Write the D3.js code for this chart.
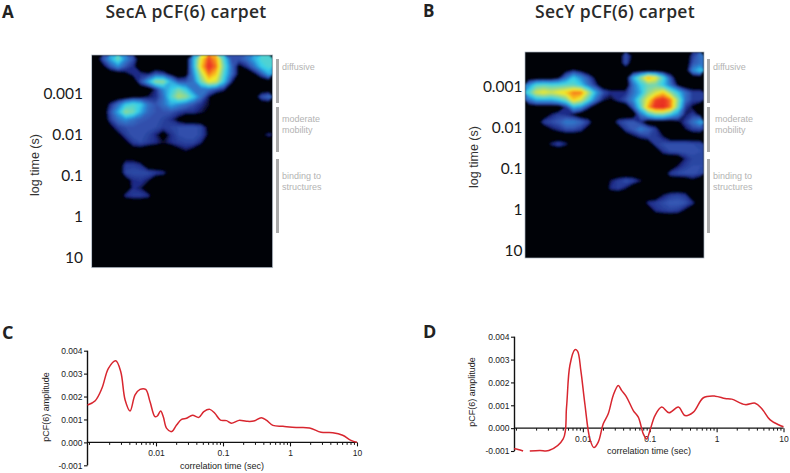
<!DOCTYPE html>
<html><head><meta charset="utf-8">
<script src="https://cdn.jsdelivr.net/npm/d3@7/dist/d3.min.js"></script>
<style>html,body{margin:0;padding:0;background:#fff}svg{display:block}</style>
</head><body><svg id="c" width="790" height="473"></svg>
<script>
// Carpet intensities, rows from short to long lag; omitted trailing cells are zero
const carpetA = [
[0,1.5,3,4.5,2.5,1.5,0,0,0,0,0,0,0,3,6.5,8.5,7.5,4,1.5,1.5,2,3,4,4],
[0,.5,1.5,2.5,1.5,1,0,0,0,0,0,0,0,3,7,9,8,4.5,2,.5,1,2,3.5,4],
[0,0,0,0,.5,1,1,.8,1.5,1.2,.5,0,.3,2.5,5.5,8,7,4,2,.5,0,.5,1.5,3],
[0,0,0,0,0,0,1.5,3,5,5,3,1.5,1.5,2,4.5,6.5,6,3.5,1],
[0,0,0,0,0,0,0,0,1,2.5,3.5,4.5,3.5,2,2,2,1.5,1],
[0,0,0,0,0,.5,.5,.8,1,2,4,5.5,5,3.5,2,.8,0,0,0,0,0,0,1.5,2],
[0,0,1,2,3.5,4,3.5,2,1.5,2,3,2.5,2,1.5,1,.7],
[0,0,1.5,3,5,4.5,3,1.8,1.5,1.5,1.5,1.2,1,1,.8,.5],
[0,0,1.2,2,2.5,2,1.6,1.5,1.5,1.3,1,.5],
[0,0,.5,1.2,1.4,1.5,1.4,1.5,1.4,1.2,1.3,1.4,1.5,1.5,1.3,.5],
[0,0,0,.5,1.2,1.5,1.5,1.3,.9,.3,1,1.4,1.5,1.5,1.3,.6,0,0,0,0,0,0,.5,1],
[0,0,0,0,.5,1.2,1.4,1.2,1,.7,1,1.2,1.3,1.3,.9],
[0,0,0,0,0,.3,.3,0,0,0,0,.5,.8,.5],
[0,0,0,0,.4,.4],
[0,0,0,0,1.2,1.2,1],
[0,0,0,0,1.3,1.4,1.4,1.4,1.2,1,.3],
[0,0,0,0,.3,1,1.1,.8],
[0,0,0,0,0,1,.8],
[0,0,0,0,1,1.2,1.2,1],
[],[],[],[],[],[],[],[],[]
];
const carpetB = [
[0,0,0,0,0,0,0,0,0,0,0,0,0,1.5,.5,0,0,0,0,0,0,0,1.2,2],
[0,0,0,0,0,0,0,0,0,0,0,0,0,1.5,0,0,0,0,0,0,0,0,1.5,2],
[0,0,0,0,0,.5,.8,.5,0,0,0,0,0,0,0,0,0,0,0,0,0,0,2.5,3.5],
[0,0,0,0,.6,2,3.5,2.5,1.5,.5,0,0,0,0,3,5,7.5,6.5,4,1.5],
[2.5,4,4.2,4,4,4.2,4.2,3.5,2,1,0,0,0,0,2,3.5,4.5,4.5,3.5,2,.6],
[4,6,6.5,6,6.5,7,8,8,5.5,3,1.5,1,1,1,2,3,5,6,7,5,3.5,2,1.2,1.2],
[2,3,3,3,3.5,4.5,7,6,4,2,.8,.6,1,1.5,2.5,4.5,6.5,8.5,9,8,5,2,1.2,1.2],
[0,0,0,0,0,1,3,2.5,1,0,0,0,0,0,1.5,4,7.5,9,9.2,8,4.5,1.2,.6],
[0,0,0,.8,1.2,1,.6,0,0,0,0,0,0,0,0,2,3.5,4.5,4.5,3.5,2.5,.8,1.2,.5],
[0,0,1.2,1.4,1.6,2.2,2.2,1.8,1.2,0,0,0,1.2,1.5,1.6,1,0,0,0,0,.5,1.2,2,3],
[0,0,0,.7,1,1.4,1.4,1.1,.3,0,0,0,0,1.2,1.6,2.3,1.8,1.2,0,0,0,.7,1.2,1.3],
[0,0,0,0,0,0,0,0,0,0,0,0,0,0,.6,1,1.3,1.2,.8],
[0,0,0,.9,1.3,.9,0,0,0,0,0,0,0,0,0,0,0,1.2,1.4,1.5,1.5,1.5,1.4,1.3],
[0,0,0,0,0,0,0,0,0,0,0,0,0,0,0,0,0,0,1.1,1.4,1.5,1.5,1.5,1.4],
[0,0,0,0,0,0,0,0,0,0,0,0,0,0,0,0,0,0,0,0,0,.9,1.3,1.3],
[0,0,0,0,0,0,0,0,0,0,0,0,0,0,0,0,0,0,0,0,.8,1.2,1.4,1.4],
[0,0,0,0,0,0,0,0,0,0,0,0,0,0,0,0,0,0,0,1.2,1.4,1.5,1.5,1.3],
[0,0,0,0,0,0,0,0,0,0,0,.8,1.2,1.5,1.3,.8,0,0,0,0,0,0,.5],
[0,0,0,0,0,0,0,0,0,0,0,1,1.2,.8],
[0,0,0,0,0,0,0,0,0,0,0,0,0,0,0,0,0,0,.8,1.2,1.3,1.1],
[0,0,0,0,0,0,0,0,0,0,0,0,0,0,0,0,1,1.2,1.4,1.6,1.6,1.5,1],
[0,0,0,0,0,0,0,0,0,0,0,0,0,0,0,0,0,1,1.2,1.3,1.2,.6],
[],[],[],[],[],[]
];
const carpetTicks = ["0.001","0.01","0.1","1","10"];
const regionBars = [["diffusive"],["moderate","mobility"],["binding to","structures"]];

const timeC = [.00095,.00124,.00156,.00195,.00251,.00298,.00346,.0041,.00487,.00578,.00701,.00815,.00966,.01047,.01173,.01285,.01442,.0171,.02028,.02409,.02858,.03508,.04365,.05176,.06353,.07551,.09162,.11246,.13335,.17338,.22336,.28708,.37325,.44259,.5559,.78343,1.236,1.954,2.912,4.345,6.115,8.128,10];
const ampC = [1.63,1.82,2.36,3.23,3.56,3.08,1.85,1.37,2.07,2.31,2.31,1.77,1.12,1.15,1.37,1.12,.61,.47,.76,1,1.05,1.18,1.09,1.34,1.44,1.27,.97,.95,.84,.96,.92,.93,1.08,.97,.74,.7,.65,.63,.44,.42,.31,.09,0];
const timeD = [.000937,.001075,.001277,.00145,.001608,.00227,.0031,.00508,.0057,.00639,.00759,.00832,.00933,.01071,.01273,.01462,.01698,.02018,.02396,.02842,.03381,.03792,.04505,.05675,.06745,.08015,.08994,.1008,.1198,.1508,.1941,.2679,.3371,.4493,.6342,.9484,1.339,1.685,2.669,3.769,4.742,6.322,8.425,10];
const ampD = [-.9,-.93,-1,null,-1,-.98,-.98,-.47,.92,2.74,3.43,3.37,2.52,1.06,-.47,-.85,-.61,.19,.63,1.43,1.87,1.65,1.36,.77,.48,-.25,-.47,-.1,.55,.92,.67,.92,.55,.7,1.33,1.4,1.3,1.27,1.03,1.09,.85,.36,.15,.06];
const ampTicks = [-1,0,1,2,3,4];
const decadeTicks = [.01,.1,1,10];

const svg = d3.select("#c");
const defs = svg.append("defs");
defs.append("filter").attr("id","soft").attr("x","-5%").attr("y","-5%").attr("width","110%").attr("height","110%")
  .append("feGaussianBlur").attr("stdDeviation",1);

const colour = d3.scaleLinear()
  .domain([0,.55,.9,1.5,2.5,3.5,4.5,5.5,6.5,7.5,8.5,9.2])
  .range(["#000207","#000207","#1e2a86","#3458b4","#2c8ed8","#36d0ea","#74d6b2","#b5dc6a","#f4ec2a","#f9a31c","#ee4024","#e62a20"])
  .clamp(true);

const LABEL = "'Liberation Sans',Arial,sans-serif";
const HEAD = "'Open Sans',Lato,sans-serif";

function text(x,y,s,size,opts={}) {
  return svg.append("text").attr("x",x).attr("y",y).text(s)
    .attr("font-family",opts.family||LABEL).attr("font-size",size)
    .attr("font-weight",opts.weight||400).attr("fill",opts.fill||"#111")
    .attr("text-anchor",opts.anchor||"start")
    .attr("letter-spacing",opts.spacing||null)
    .attr("transform",opts.rot?`rotate(${opts.rot} ${x} ${y})`:null);
}

function carpet(id,rows,box,labelRight,tickY,yLabel,barX,textX) {
  const nx=24, ny=rows.length;
  const flat=[];
  rows.forEach(r=>{for(let i=0;i<nx;i++)flat.push(i<r.length?r[i]:0);});
  const x=d3.scaleLinear([0,nx],[box.x0,box.x1]), y=d3.scaleLinear([0,ny],[box.y0,box.y1]);
  const path=d3.geoPath(d3.geoTransform({point(a,b){this.stream.point(x(a),y(b));}}));
  defs.append("clipPath").attr("id",id).append("rect")
    .attr("x",box.x0).attr("y",box.y0).attr("width",box.x1-box.x0).attr("height",box.y1-box.y0);
  const g=svg.append("g").attr("clip-path",`url(#${id})`);
  g.append("rect").attr("x",box.x0).attr("y",box.y0).attr("width",box.x1-box.x0).attr("height",box.y1-box.y0).attr("fill","#000207");
  const conts=d3.contours().size([nx,ny]).thresholds(d3.range(.55,9.3,.12))(flat);
  g.append("g").attr("filter","url(#soft)").selectAll("path").data(conts).join("path")
    .attr("d",path).attr("fill",d=>colour(d.value));
  svg.append("rect").attr("x",box.x0).attr("y",box.y0).attr("width",box.x1-box.x0).attr("height",box.y1-box.y0)
    .attr("fill","none").attr("stroke","#a9b4c0").attr("stroke-width",.7);
  carpetTicks.forEach((t,i)=>text(labelRight,tickY[i],t,15.5,{family:"Lato,sans-serif",anchor:"end",fill:"#1a1a1a"}));
  text(yLabel[0],yLabel[1],"log time (s)",12.5,{anchor:"middle",rot:-90,fill:"#333"});
  const bars=[[59,103],[107,152],[159,233]];
  const ys=[[70],[122,133],[179,190]];
  bars.forEach((b,i)=>{
    svg.append("rect").attr("x",barX).attr("y",b[0]).attr("width",3).attr("height",b[1]-b[0]).attr("fill","#aaaaaa");
    regionBars[i].forEach((s,j)=>text(textX[i],ys[i][j],s,9,{fill:"#b3b3b3"}));
  });
}

function profile(time,amp,o) {
  const x=d3.scaleLog([.00095,10],[o.x0,o.x1]);
  const y=d3.scaleLinear([-1,4],[o.yBottom,o.yTop]);
  const minor=[];
  [.001,.01,.1,1].forEach(d=>{for(let k=1;k<10;k++){const v=d*k;if(v>=.00095&&!decadeTicks.includes(+v.toPrecision(1)))minor.push(v);}});
  const ax=svg.append("g").attr("transform",`translate(0,${y(0)})`)
    .call(d3.axisBottom(x).tickValues(minor).tickSize(o.minor).tickFormat(""));
  ax.selectAll("path").remove();
  ax.selectAll("line").attr("stroke","#111").attr("stroke-width",1);
  const ax2=svg.append("g").attr("transform",`translate(0,${y(0)})`)
    .call(d3.axisBottom(x).tickValues(decadeTicks).tickSize(4).tickPadding(o.pad).tickFormat(d=>String(d)));
  ax2.select("path").attr("d",`M${o.x0},0H${o.x1}`).attr("stroke","#111").attr("stroke-width",1.4);
  ax2.selectAll("line").attr("stroke","#111").attr("stroke-width",1.1);
  ax2.selectAll("text").attr("font-family",LABEL).attr("font-size",8.5).attr("fill","#222");
  const ay=svg.append("g").attr("transform",`translate(${o.x0},0)`)
    .call(d3.axisLeft(y).tickValues(ampTicks).tickSize(3.5).tickPadding(1.5).tickFormat(d=>(d/1000).toFixed(3)));
  ay.select("path").attr("d",`M0,${o.yTop}V${o.yBottom}`).attr("stroke","#111").attr("stroke-width",1.4);
  ay.selectAll("line").attr("stroke","#111").attr("stroke-width",1.1);
  ay.selectAll("text").attr("font-family",LABEL).attr("font-size",8.5).attr("fill","#222");
  const pts=time.map((t,i)=>[t,amp[i]]);
  const line=d3.line().defined(d=>d[1]!==null).x(d=>x(d[0])).y(d=>y(d[1])).curve(d3.curveCatmullRom.alpha(.5));
  svg.append("path").datum(pts).attr("d",line).attr("fill","none").attr("stroke","#d8262f").attr("stroke-width",1.5).attr("stroke-linejoin","round");
  text(o.xLabel[0],o.xLabel[1],"correlation time (sec)",9,{anchor:"middle",fill:"#222"});
  text(o.yLabel[0],o.yLabel[1],"pCF(6) amplitude",9,{anchor:"middle",rot:-90,fill:"#222"});
}

text(2,17.5,"A",17,{family:HEAD,weight:700,fill:"#222"});
text(423,16.5,"B",17,{family:HEAD,weight:700,fill:"#222"});
text(2,339,"C",18,{family:HEAD,weight:700,fill:"#222"});
text(423,337.5,"D",18,{family:HEAD,weight:700,fill:"#222"});
text(186,17.5,"SecA pCF(6) carpet",17.5,{family:HEAD,weight:600,anchor:"middle",fill:"#2a2a2a",spacing:.3});
text(615,17.5,"SecY pCF(6) carpet",17.5,{family:HEAD,weight:600,anchor:"middle",fill:"#2a2a2a",spacing:.3});

carpet("ca",carpetA,{x0:91.7,x1:272.7,y0:55,y1:267.7},83,[99,140,181,222,263],[39,165],276,[282,282,282]);
carpet("cb",carpetB,{x0:525,x1:704,y0:52,y1:258},522.5,[92,133,174,215,256],[478,157],707,[713,715,713]);

profile(timeC,ampC,{x0:87.5,x1:357,yTop:350.7,yBottom:465.3,minor:2.5,pad:4,xLabel:[222,469],yLabel:[49,407]});
profile(timeD,ampD,{x0:514.5,x1:783.5,yTop:336.7,yBottom:451,minor:2.5,pad:4,xLabel:[649,454],yLabel:[475,392]});
</script></body></html>
